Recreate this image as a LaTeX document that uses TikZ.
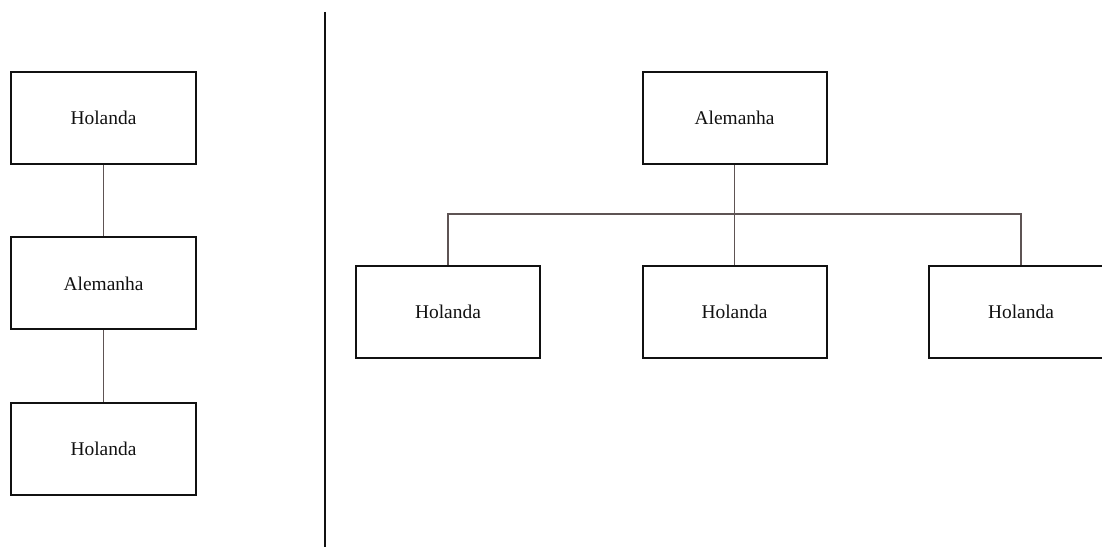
\documentclass[tikz,border=0pt]{standalone}
\usepackage{fontspec}
\setmainfont{Liberation Serif}
\usepackage{tikz}
\usetikzlibrary{positioning}
\definecolor{blk}{HTML}{111111}
\definecolor{wire}{HTML}{5E5454}
\tikzset{
  box/.style={draw=blk, line width=2bp, minimum width=184bp, minimum height=92bp,
              inner sep=0pt, align=center, font=\fontsize{19.5}{23}\selectfont, text=blk},
  link/.style={draw=wire, line width=1.3bp},
  divider/.style={draw=blk, line width=2bp},
}
\begin{document}
\begin{tikzpicture}[x=1bp, y=1bp, node distance=71.5bp and 100.5bp]
  \clip (0,0) rectangle (1102,547);
  \useasboundingbox (0,0) rectangle (1102,547);
  % chain on the left
  \node[box] (hol1) at (103.5,429) {Holanda};
  \node[box, below=of hol1] (ale1) {Alemanha};
  \node[box, below=of ale1] (hol2) {Holanda};
  \draw[link] (hol1) -- (ale1);
  \draw[link] (ale1) -- (hol2);
  % separator
  \coordinate (divtop) at (325,535);
  \coordinate (divbot) at (325,0);
  \draw[divider] (divtop) -- (divbot);
  % tree on the right
  \node[box] (ale2) at (734.5,429) {Alemanha};
  \node[box] (holB) at (734.5,235) {Holanda};
  \node[box, left=of holB] (holA) {Holanda};
  \node[box, right=of holB] (holC) {Holanda};
  \draw[link] (ale2) -- (holB);
  \draw[link] (holA.north) -- ++(0,51bp) -| (holC.north);
\end{tikzpicture}
\end{document}
